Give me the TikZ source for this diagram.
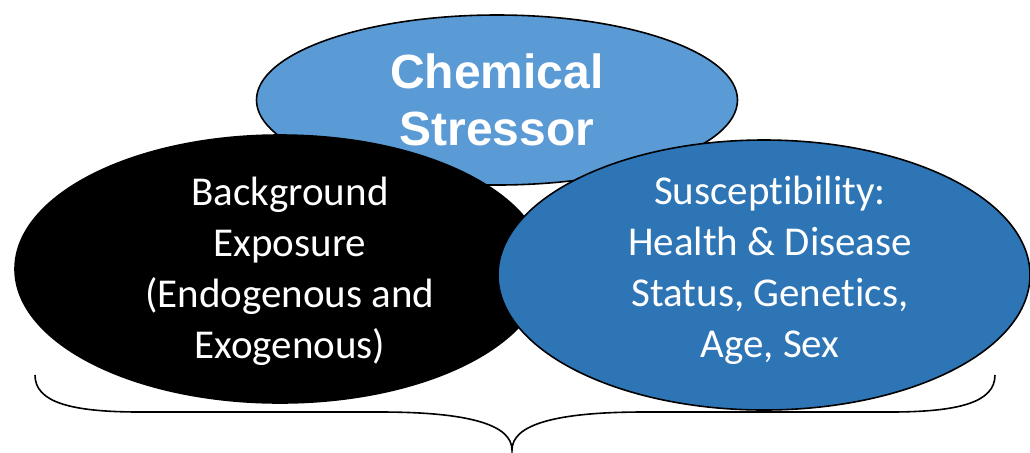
\documentclass[tikz,border=0pt]{standalone}
\usepackage{fontspec}
\setmainfont{Carlito}[Ligatures={NoCommon}]
\newfontfamily\headfont{Liberation Sans}
\usetikzlibrary{shapes.geometric}
\definecolor{stresscol}{RGB}{91,155,213}
\definecolor{suscol}{RGB}{46,117,182}

\begin{document}
\begin{tikzpicture}[x=0.5pt,y=-0.5pt,
    blob/.style={ellipse,inner sep=0pt,line width=0.8pt},
    every node/.style={text=white,align=center}]
  \useasboundingbox (0,0) rectangle (1030,452);
  % chemical stressor on top
  \node[blob,draw=black,fill=stresscol,minimum width=240.5pt,minimum height=85pt] (chem) at (497,100) {};
  \node[font=\headfont\bfseries\fontsize{24}{28.5}\selectfont] (chemtxt) at (chem.center) {Chemical\\Stressor};
  % background exposure
  \node[blob,draw=black,fill=black,minimum width=265pt,minimum height=134pt] (bg) at (280,269) {};
  \node[font=\fontsize{20.5}{25.5}\selectfont] (bgtxt) at (290,271)
        {Background\\Exposure\\(Endogenous and\\Exogenous)};
  % susceptibility
  \node[blob,draw=black,fill=suscol,minimum width=266pt,minimum height=135pt] (sus) at (764,275) {};
  \node[font=\fontsize{20.5}{25.5}\selectfont] (sustxt) at (770,270)
        {Susceptibility:\\Health \& Disease\\Status, Genetics,\\Age, Sex};
  % brace underneath
  \coordinate (bl) at (35,375);
  \coordinate (br) at (995,375);
  \coordinate (tip) at (512,450);
  \draw[line width=0.8pt] (bl) .. controls (35,402) and (70,412) .. (140,412) -- (380,412)
        .. controls (470,412) and (512,425) .. (tip)
        .. controls (512,425) and (554,412) .. (644,412) -- (890,412)
        .. controls (960,412) and (995,402) .. (br);
\end{tikzpicture}
\end{document}
